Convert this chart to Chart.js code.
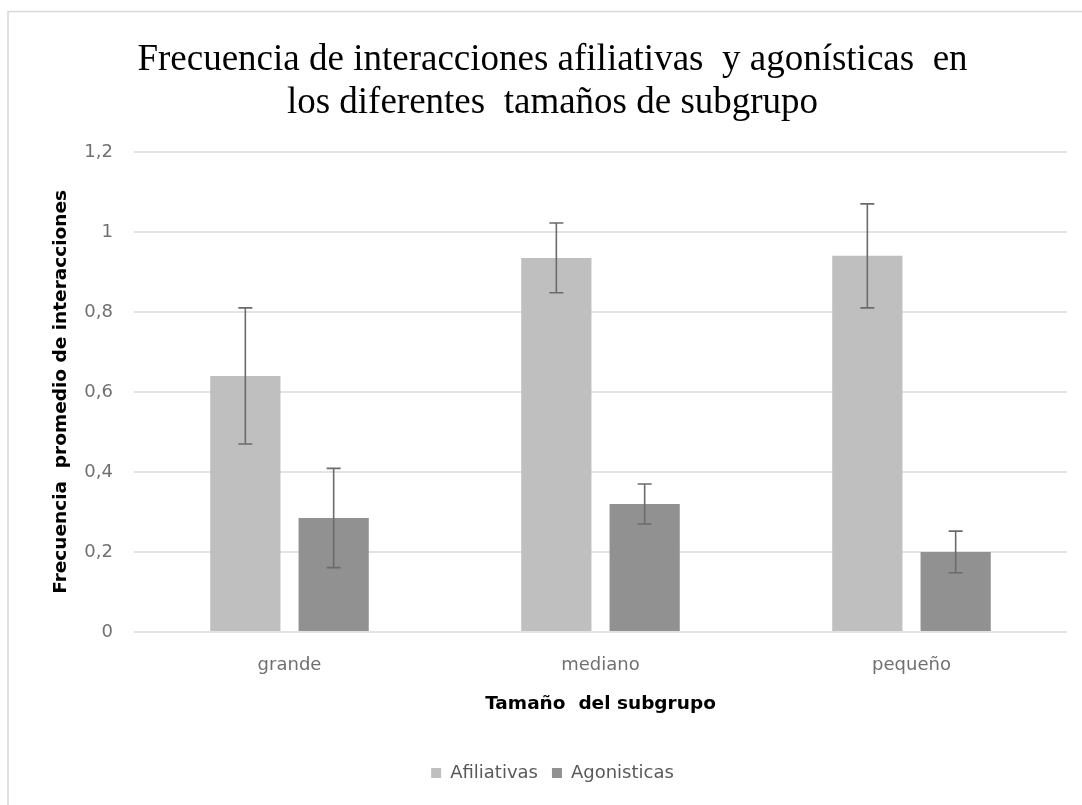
<!DOCTYPE html>
<html>
<head>
<meta charset="utf-8">
<script src="https://cdn.jsdelivr.net/npm/chart.js@4"></script>
<style>
    html, body { margin: 0; padding: 0; background: #ffffff; }
    #wrap { width: 1082px; height: 805px; }
</style>
</head>
<body>
<div id="wrap"><canvas id="chart" width="1082" height="805"></canvas></div>
<script>
// Data
const categories = ['grande', 'mediano', 'pequeño'];
const afiliativas = [0.64, 0.935, 0.94];
const agonisticas = [0.285, 0.32, 0.20];
const afiliativasErr = [0.17, 0.087, 0.13];
const agonisticasErr = [0.124, 0.05, 0.052];
const yTicks = [0, 0.2, 0.4, 0.6, 0.8, 1, 1.2];

const colors = {
    light: '#bfbfbf',
    dark: '#919191',
    error: '#6b6b6b',
    grid: '#e3e3e3',
    tick: '#707070',
    border: '#d9d9d9'
};

const sansFont = "'DejaVu Sans', Verdana, sans-serif";

// Outer frame of the chart, like the spreadsheet chart border
const framePlugin = {
    id: 'frame',
    beforeDraw(chart) {
        const ctx = chart.ctx;
        ctx.save();
        ctx.fillStyle = '#ffffff';
        ctx.fillRect(0, 0, chart.width, chart.height);
        ctx.strokeStyle = colors.border;
        ctx.lineWidth = 1.5;
        ctx.strokeRect(8, 11.5, chart.width + 50, chart.height + 50);
        ctx.restore();
    }
};

// Error bars drawn through the y scale
const errorBarPlugin = {
    id: 'errorBars',
    afterDatasetsDraw(chart) {
        const ctx = chart.ctx;
        const yScale = chart.scales.y;
        ctx.save();
        ctx.strokeStyle = colors.error;
        ctx.lineWidth = 1.6;
        chart.data.datasets.forEach(function(ds, i) {
            const meta = chart.getDatasetMeta(i);
            meta.data.forEach(function(bar, j) {
                const v = ds.data[j];
                const e = ds.errors[j];
                const top = yScale.getPixelForValue(v + e);
                const bottom = yScale.getPixelForValue(v - e);
                const x = bar.x;
                ctx.beginPath();
                ctx.moveTo(x, top);
                ctx.lineTo(x, bottom);
                ctx.moveTo(x - 7, top);
                ctx.lineTo(x + 7, top);
                ctx.moveTo(x - 7, bottom);
                ctx.lineTo(x + 7, bottom);
                ctx.stroke();
            });
        });
        ctx.restore();
    }
};

const ctx = document.getElementById('chart');

new Chart(ctx, {
    type: 'bar',
    data: {
        labels: categories,
        datasets: [{
            label: 'Afiliativas',
            data: afiliativas,
            errors: afiliativasErr,
            backgroundColor: colors.light,
            categoryPercentage: 0.568,
            barPercentage: 0.795
        }, {
            label: 'Agonisticas',
            data: agonisticas,
            errors: agonisticasErr,
            backgroundColor: colors.dark,
            categoryPercentage: 0.568,
            barPercentage: 0.795
        }]
    },
    options: {
        responsive: false,
        animation: false,
        layout: {
            padding: { top: 14, left: 38, right: 15, bottom: 13 }
        },
        plugins: {
            title: {
                display: true,
                text: ['Frecuencia de interacciones afiliativas  y agonísticas  en',
                       'los diferentes  tamaños de subgrupo'],
                font: { family: "'Liberation Serif', 'Times New Roman', serif", size: 37, weight: 'normal', lineHeight: 1.16 },
                color: '#000000',
                padding: { top: 25, bottom: 27 }
            },
            legend: {
                position: 'bottom',
                labels: {
                    boxWidth: 10,
                    boxHeight: 10,
                    padding: 14,
                    color: '#595959',
                    font: { family: sansFont, size: 18 }
                }
            },
            tooltip: { enabled: false }
        },
        scales: {
            x: {
                grid: { display: false, drawTicks: false },
                border: { display: false },
                ticks: {
                    color: colors.tick,
                    padding: 23,
                    font: { family: sansFont, size: 18 }
                },
                title: {
                    display: true,
                    text: 'Tamaño  del subgrupo',
                    color: '#000000',
                    font: { family: sansFont, size: 18.5, weight: 'bold' },
                    padding: { top: 0, bottom: 35 }
                },
                afterFit: function(scale) {
                    scale.height = 118;
                }
            },
            y: {
                min: 0,
                max: 1.2,
                afterBuildTicks: function(scale) {
                    scale.ticks = yTicks.map(v => ({ value: v }));
                },
                grid: { color: colors.grid, lineWidth: 2, drawTicks: false },
                border: { display: false },
                ticks: {
                    color: colors.tick,
                    padding: 21,
                    font: { family: sansFont, size: 18 },
                    callback: function(value) {
                        return Number(value.toFixed(1)).toLocaleString('es-ES');
                    }
                },
                title: {
                    display: true,
                    text: 'Frecuencia  promedio de interacciones',
                    color: '#000000',
                    font: { family: sansFont, size: 18.5, weight: 'bold' },
                    padding: { top: 12, bottom: 0 }
                },
                afterFit: function(scale) {
                    scale.width = 96;
                }
            }
        }
    },
    plugins: [framePlugin, errorBarPlugin]
});
</script>
</body>
</html>
